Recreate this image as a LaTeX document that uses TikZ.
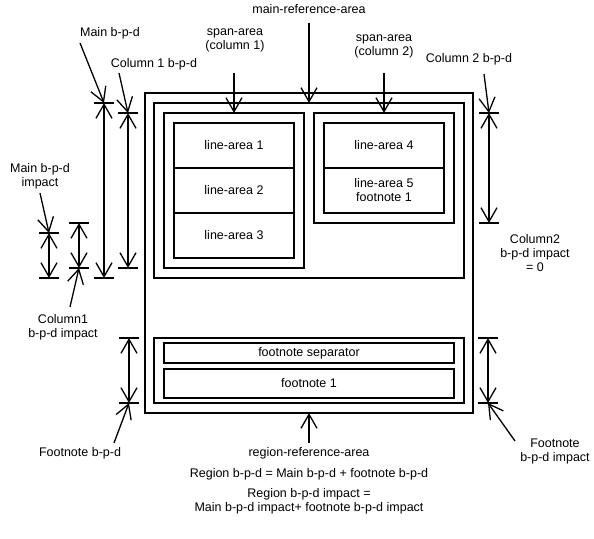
\documentclass[tikz,border=0pt]{standalone}
\usepackage{fontspec}
\setmainfont{Liberation Sans}
\usetikzlibrary{arrows.meta}
\begin{document}
\begin{tikzpicture}[x=1pt,y=-1pt,
  lbl/.style={font=\fontsize{12.5}{14}\selectfont, inner sep=0pt, outer sep=0pt, align=center},
  box/.style={draw, line width=2pt, inner sep=0pt, outer sep=0pt, align=center, font=\fontsize{12.5}{14}\selectfont},
  tip/.style={line width=1.3pt, -{Straight Barb[length=14pt,width=16pt]}},
  dimln/.style={line width=1.3pt, {Straight Barb[length=14pt,width=16pt]}-{Straight Barb[length=14pt,width=16pt]}},
  tick/.style={line width=1.3pt}]
\fill[white] (0,0) rectangle (594,538);
\useasboundingbox (0,0) rectangle (594,538);

% boxes
\node[box, minimum width=328pt, minimum height=320pt] (region) at (309,253) {};
\node[box, minimum width=310pt, minimum height=175pt] (mainref) at (309,190.5) {};
\node[box, minimum width=140pt, minimum height=155pt] (span1) at (234,190.5) {};
\node[box, minimum width=120pt, minimum height=45pt] (la1) at (234,145.5) {line-area 1};
\node[box, minimum width=120pt, minimum height=45pt] (la2) at (234,190.5) {line-area 2};
\node[box, minimum width=120pt, minimum height=45pt] (la3) at (234,235.5) {line-area 3};
\node[box, minimum width=140pt, minimum height=110pt] (span2) at (384,168) {};
\node[box, minimum width=120pt, minimum height=45pt] (la4) at (384,145.5) {line-area 4};
\node[box, minimum width=120pt, minimum height=45pt] (la5) at (384,190.5) {line-area 5\\footnote 1};
\node[box, minimum width=310pt, minimum height=65pt] (fnref) at (309,370.5) {};
\node[box, minimum width=290pt, minimum height=20pt] (fnsep) at (309,353) {footnote separator};
\node[box, minimum width=290pt, minimum height=29pt] (fn1) at (309,383.5) {footnote 1};

% labels
\node[lbl] (lMain) at (110,33) {Main b-p-d};
\node[lbl] (lCol1) at (154,64) {Column 1 b-p-d};
\node[lbl] (lSpan1) at (235,40.5) {span-area\\(column 1)};
\node[lbl] (lMainRef) at (309,9) {main-reference-area};
\node[lbl] (lSpan2) at (384,46) {span-area\\(column 2)};
\node[lbl] (lCol2) at (469,59) {Column 2 b-p-d};
\node[lbl] (lMainImp) at (40,176) {Main b-p-d\\impact};
\node[lbl] (lCol2Imp) at (535,253) {Column2\\b-p-d impact\\= 0};
\node[lbl] (lCol1Imp) at (63,327) {Column1\\b-p-d impact};
\node[lbl] (lFn) at (80,453) {Footnote b-p-d};
\node[lbl] (lFnImp) at (555,451.5) {Footnote\\b-p-d impact};
\node[lbl] (lRegion) at (309,453) {region-reference-area};
\node[lbl] (lEq1) at (309,474) {Region b-p-d = Main b-p-d + footnote b-p-d};
\node[lbl] (lEq2) at (309,501.5) {Region b-p-d impact =\\Main b-p-d impact+ footnote b-p-d impact};

% reference arrows
\coordinate (sMainRef) at (309,23);
\coordinate (sSpan1) at (234,73);
\coordinate (sSpan2) at (384,73);
\coordinate (sRegion) at (309,443);
\draw[tip] (sMainRef) -- (mainref.north);
\draw[tip] (sSpan1) -- (span1.north);
\draw[tip] (sSpan2) -- (span2.north);
\draw[tip] (sRegion) -- (region.south);

% dimension end points
\coordinate (mbT) at (104,103);  \coordinate (mbB) at (104,278);
\coordinate (c1T) at (128,113);  \coordinate (c1B) at (128,268);
\coordinate (miT) at (49,233);   \coordinate (miB) at (49,278);
\coordinate (ciT) at (79,223);   \coordinate (ciB) at (79,268);
\coordinate (fbT) at (129,338);  \coordinate (fbB) at (129,403);
\coordinate (c2T) at (489,113);  \coordinate (c2B) at (489,223);
\coordinate (fiT) at (488,338);  \coordinate (fiB) at (488,403);

\foreach \d in {mb,c1,mi,ci,fb,c2,fi}{
  \draw[dimln] (\d T) -- (\d B);
  \draw[tick] ([xshift=-10pt]\d T) -- ([xshift=10pt]\d T);
  \draw[tick] ([xshift=-10pt]\d B) -- ([xshift=10pt]\d B);
}

% leaders
\coordinate (sMain) at (80,43);
\coordinate (sCol1) at (119,73);
\coordinate (sMainImp) at (40,193);
\coordinate (sCol1Imp) at (70,307);
\coordinate (sFn) at (114,443);
\coordinate (sCol2) at (484,74);
\coordinate (sFnImp) at (515,441);
\draw[tip] (sMain) -- (mbT);
\draw[tip] (sCol1) -- (c1T);
\draw[tip] (sMainImp) -- (miT);
\draw[tip] (sCol1Imp) -- (ciB);
\draw[tip] (sFn) -- (fbB);
\draw[tip] (sCol2) -- (c2T);
\draw[tip] (sFnImp) -- (fiB);
\end{tikzpicture}
\end{document}
